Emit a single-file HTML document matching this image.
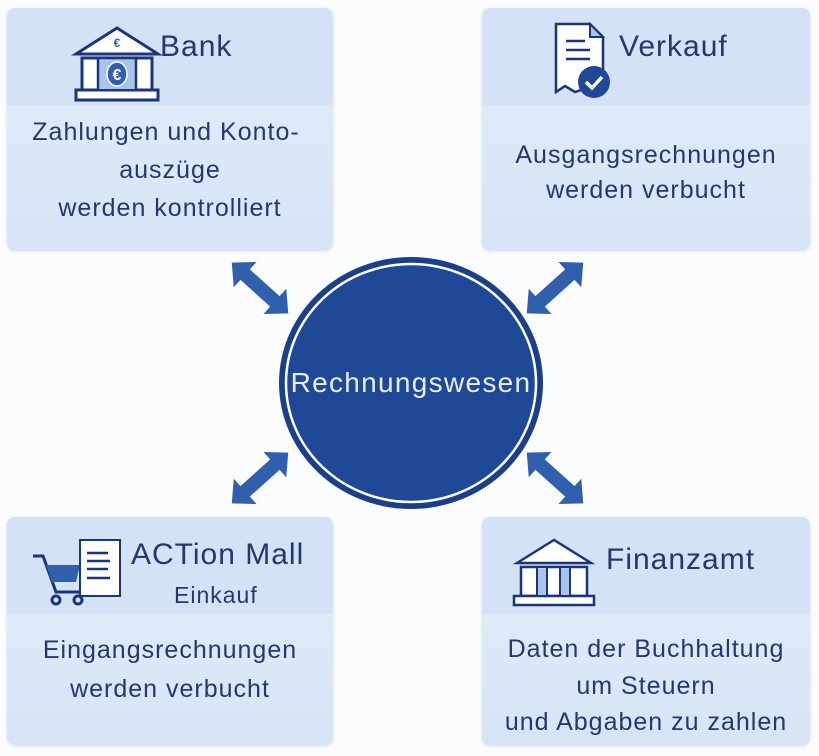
<!DOCTYPE html>
<html><head><meta charset="utf-8"><style>
body{margin:0;width:819px;height:756px;background:#fbfcfe;position:relative;overflow:hidden;font-family:"Liberation Sans",sans-serif;color:#22386e}
.box{position:absolute;border-radius:8px;background:#d3e2f5;box-shadow:0 1px 3px rgba(120,150,200,.3)}
.body{position:absolute;left:0;right:0;bottom:0;background:linear-gradient(#dfeaf8,#d6e4f6);border-radius:0 0 8px 8px}
.t{position:absolute;left:0;right:0;text-align:center;font-size:25px;letter-spacing:1px;line-height:30px}
.h{position:absolute;font-size:30px;letter-spacing:1px;line-height:34px}
</style></head><body>
<div class="box" style="left:7px;top:8px;width:326px;height:242px"><div class="body" style="top:97px"></div>
<div class="t" style="top:109px;left:-8px">Zahlungen und Konto-</div>
<div class="t" style="top:147px">auszüge</div>
<div class="t" style="top:185px">werden kontrolliert</div>
<div class="h" style="left:153px;top:22px">Bank</div></div>
<div class="box" style="left:482px;top:8px;width:328px;height:242px"><div class="body" style="top:97px"></div>
<div class="t" style="top:132px">Ausgangsrechnungen</div>
<div class="t" style="top:167px">werden verbucht</div>
<div class="h" style="left:137px;top:22px">Verkauf</div></div>
<div class="box" style="left:7px;top:517px;width:326px;height:228px"><div class="body" style="top:97px"></div>
<div class="t" style="top:118px">Eingangsrechnungen</div>
<div class="t" style="top:157px">werden verbucht</div>
<div class="h" style="left:124px;top:21px;font-size:30px">ACTion Mall</div>
<div class="h" style="left:167px;top:61px;font-size:23px">Einkauf</div></div>
<div class="box" style="left:482px;top:517px;width:328px;height:228px"><div class="body" style="top:97px"></div>
<div class="t" style="top:117px">Daten der Buchhaltung</div>
<div class="t" style="top:154px">um Steuern</div>
<div class="t" style="top:190px">und Abgaben zu zahlen</div>
<div class="h" style="left:124px;top:26px">Finanzamt</div></div>

<svg width="819" height="756" style="position:absolute;left:0;top:0">
<defs><g id="arr"><polygon points="-38,0 -20,-17 -20,-7 20,-7 20,-17 38,0 20,17 20,7 -20,7 -20,17" fill="#2f5fad"/></g></defs>
<use href="#arr" transform="translate(260,288) rotate(42)"/>
<use href="#arr" transform="translate(555,288) rotate(-42)"/>
<use href="#arr" transform="translate(260,478) rotate(-42)"/>
<use href="#arr" transform="translate(555,478) rotate(42)"/>
<ellipse cx="411" cy="383" rx="132" ry="126" fill="#1b4089"/>
<ellipse cx="411" cy="383" rx="125" ry="119" fill="#1f4896" stroke="#fff" stroke-width="2.5"/>
<text x="411" y="392" text-anchor="middle" fill="#e8eef8" font-family="Liberation Sans" font-size="28" letter-spacing="1.3">Rechnungswesen</text>
<g stroke="#1b357a" stroke-width="3" fill="#fff">
<polygon points="76,54 117,28 158,54"/>
<rect x="82" y="58" width="70" height="32"/>
<rect x="76" y="90" width="82" height="10"/>
</g>
<rect x="98" y="60" width="38" height="29" fill="#a8c4e8"/>
<line x1="98" y1="58" x2="98" y2="90" stroke="#1b357a" stroke-width="2.5"/><line x1="136" y1="58" x2="136" y2="90" stroke="#1b357a" stroke-width="2.5"/>
<ellipse cx="117" cy="74" rx="10" ry="12" fill="#2f5fad" stroke="#fff" stroke-width="1.5"/>
<text x="117" y="80" text-anchor="middle" fill="#fff" font-size="16" font-family="Liberation Sans" font-weight="bold">€</text>
<text x="117" y="47" text-anchor="middle" fill="#2f5fad" font-size="12" font-family="Liberation Sans" font-weight="bold">€</text>
<path d="M556,24 L590,24 L603,37 L603,92 L590,87 L575,92 L565,86 L556,92 Z" fill="#fff" stroke="#1b357a" stroke-width="2.5"/>
<path d="M590,24 L590,37 L603,37 Z" fill="#a8c4e8" stroke="#1b357a" stroke-width="2"/>
<g stroke="#1b357a" stroke-width="2.5"><line x1="566" y1="41" x2="585" y2="41"/><line x1="566" y1="50" x2="590" y2="50"/><line x1="566" y1="59" x2="590" y2="59"/></g>
<circle cx="594" cy="82" r="16" fill="#1f4896"/>
<polyline points="586,82 592,88 602,77" fill="none" stroke="#fff" stroke-width="3.5"/>
<g stroke="#1b357a" stroke-width="3" fill="none"><path d="M33,556 L43,556 L56,592 L82,592"/><circle cx="56" cy="600" r="4"/><circle cx="78" cy="600" r="4"/></g>
<polygon points="46,565 80,565 76,582 52,582" fill="#2f5fad"/>
<path d="M80,540 L120,540 L120,596 L80,596 Z" fill="#fff" stroke="#1b357a" stroke-width="2"/>
<g stroke="#1b357a" stroke-width="2.5"><line x1="87" y1="553" x2="108" y2="553"/><line x1="87" y1="561" x2="110" y2="561"/><line x1="87" y1="569" x2="108" y2="569"/><line x1="87" y1="578" x2="110" y2="578"/></g>
<g stroke="#1b357a" stroke-width="2.5" fill="#fff">
<polygon points="517,563 554,540 591,563"/>
<rect x="521" y="567" width="66" height="29"/>
<rect x="514" y="596" width="80" height="9"/>
</g>
<rect x="537" y="569" width="10" height="26" fill="#a8c4e8"/><rect x="560" y="569" width="10" height="26" fill="#a8c4e8"/>
<g stroke="#1b357a" stroke-width="2"><line x1="537" y1="567" x2="537" y2="596"/><line x1="547" y1="567" x2="547" y2="596"/><line x1="560" y1="567" x2="560" y2="596"/><line x1="570" y1="567" x2="570" y2="596"/></g>
</svg>
</body></html>
